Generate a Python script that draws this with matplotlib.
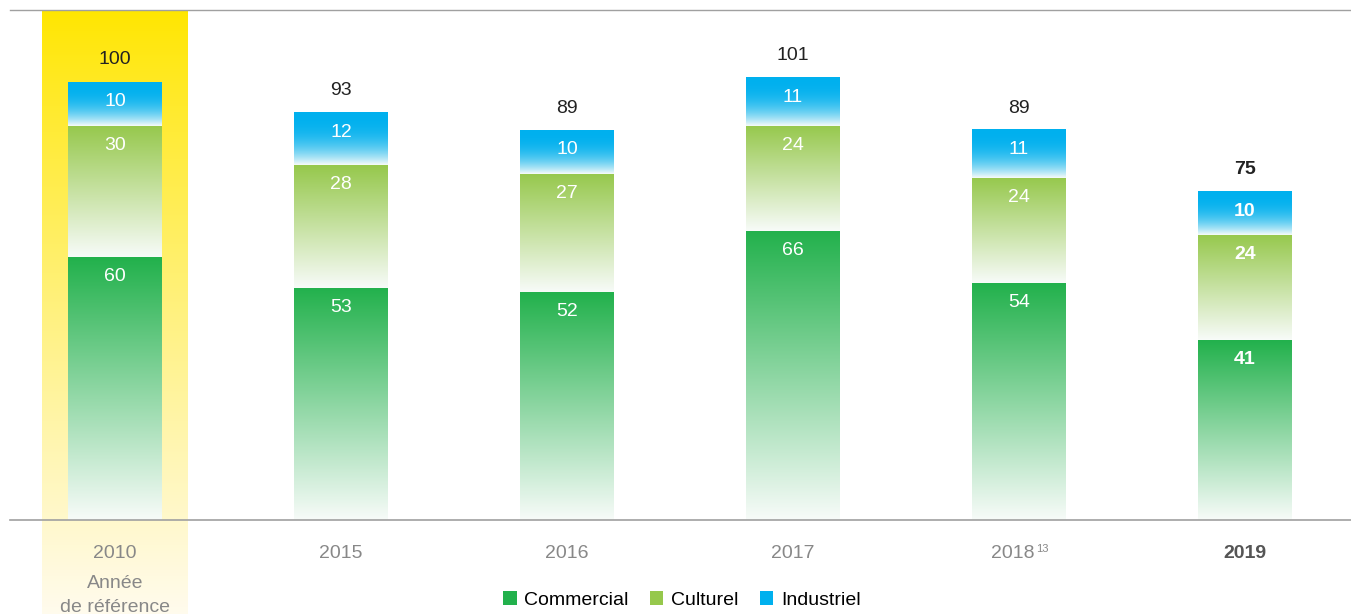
import numpy as np
import matplotlib
matplotlib.use("Agg")
import matplotlib.pyplot as plt
from matplotlib.patches import Patch
from matplotlib.colors import to_rgb
import matplotlib.transforms as mtransforms

plt.rcParams['font.family'] = ['Liberation Sans', 'DejaVu Sans']

years = ["2010", "2015", "2016", "2017", "2018", "2019"]
commercial = [60, 53, 52, 66, 54, 41]
culturel = [30, 28, 27, 24, 24, 24]
industriel = [10, 12, 10, 11, 11, 10]
totals = [100, 93, 89, 101, 89, 75]

series = [("Commercial", commercial, "#22b14c"),
          ("Culturel", culturel, "#96c84c"),
          ("Industriel", industriel, "#00b0ee")]

W, H = 1351, 614
fig = plt.figure(figsize=(W / 100, H / 100), dpi=100)
ax = fig.add_axes([10 / W, 94 / H, 1341 / W, 510 / H])
px_per_unit = 226.0
xl = -(115 - 10) / px_per_unit
xr = 5 + (1351 - 1245) / px_per_unit
ytop = 510 / 4.38
ax.set_xlim(xl, xr)
ax.set_ylim(0, ytop)
ax.axis('off')

bw = 94 / px_per_unit
x = np.arange(len(years))

# reference year highlight band
band_w = 146 / px_per_unit
ybot = -(614 - 520) / 4.38
n = 256
t = np.linspace(0, 1, n)[:, None]
c0 = np.array(to_rgb("#ffe600"))
c1 = np.array([1.0, 0.985, 0.93])
tt = t ** 0.9
band = (c0 * (1 - tt) + c1 * tt)[:, None, :].repeat(2, axis=1)
ax.imshow(band, extent=[x[0] - band_w / 2, x[0] + band_w / 2, ybot, ytop],
          aspect='auto', origin='upper', zorder=0, clip_on=False, interpolation='bilinear')


def grad_rect(x0, x1, y0, y1, color, power):
    c = np.array(to_rgb(color))
    white = np.array([0.97, 0.985, 0.975])
    tv = np.linspace(0, 1, n)[:, None] ** power
    img = (c * (1 - tv) + white * tv)[:, None, :].repeat(2, axis=1)
    ax.imshow(img, extent=[x0, x1, y0, y1], aspect='auto', origin='upper',
              zorder=2, interpolation='bilinear')


powers = {"Commercial": 1.0, "Culturel": 1.0, "Industriel": 2.5}
for i in range(len(years)):
    bottom = 0
    bold = (years[i] == "2019")
    for name, vals, col in series:
        v = vals[i]
        grad_rect(x[i] - bw / 2, x[i] + bw / 2, bottom, bottom + v, col, powers[name])
        ax.text(x[i], bottom + v - 19.5 / 4.38, str(v), ha='center', va='center',
                color='white', fontsize=14, fontweight='bold' if bold else 'normal', zorder=3)
        bottom += v
    ax.text(x[i], bottom + 22 / 4.38, str(totals[i]), ha='center', va='center',
            color='#222222', fontsize=14, fontweight='bold' if bold else 'normal', zorder=3)

ax.set_xlim(xl, xr)
ax.set_ylim(0, ytop)

ax.axhline(0, color='#a0a0a0', lw=1.2, zorder=4, clip_on=False)
ax.axhline(ytop, color='#a0a0a0', lw=1.0, zorder=4, clip_on=False)

trans = mtransforms.blended_transform_factory(ax.transData, ax.transAxes)
tick_labels = ["2010", "2015", "2016", "2017", "2018", "2019"]
for i, lab in enumerate(tick_labels):
    bold = (years[i] == "2019")
    if lab == "2018":
        ax.text(x[i] + 16 / px_per_unit, -33 / 510, lab, transform=trans, ha='right', va='center',
                color='#888888', fontsize=14)
        ax.text(x[i] + 17 / px_per_unit, -29 / 510, "13", transform=trans, ha='left', va='center',
                color='#888888', fontsize=8)
        continue
    ax.text(x[i], -33 / 510, lab, transform=trans, ha='center', va='center',
            color='#555555' if bold else '#888888', fontsize=14,
            fontweight='bold' if bold else 'normal')
ax.text(x[0], -64 / 510, "Année", transform=trans, ha='center', va='center',
        color='#888888', fontsize=14)
ax.text(x[0], -87 / 510, "de référence", transform=trans, ha='center', va='center',
        color='#888888', fontsize=14)

handles = [Patch(facecolor=c, edgecolor='none', label=nm) for nm, _, c in series]
fig.legend(handles=handles, loc='center', bbox_to_anchor=(682 / W, 1 - 600 / H), ncol=3,
           frameon=False, fontsize=14, handlelength=0.68, handleheight=0.68,
           handletextpad=0.4, columnspacing=1.1, borderaxespad=0)

fig.savefig("out.png", dpi=100)
